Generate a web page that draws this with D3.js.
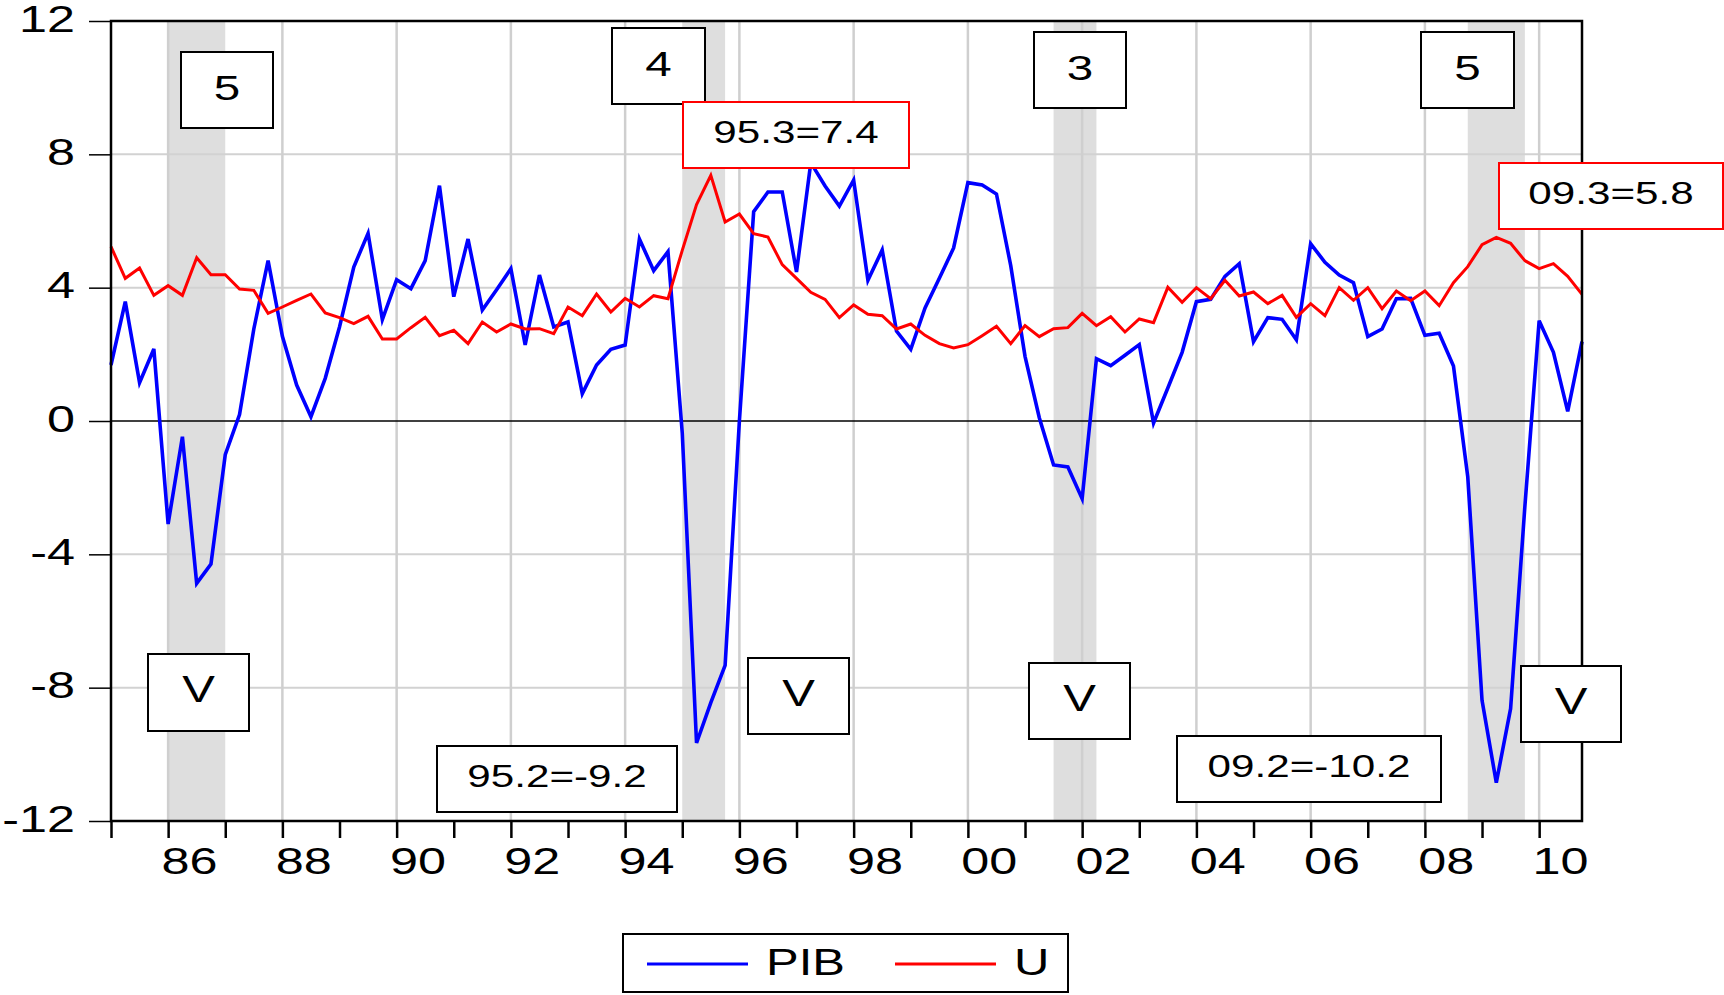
<html>
<head>
<meta charset="utf-8">
<script src="https://d3js.org/d3.v7.min.js"></script>
<style>
  body { margin: 0; background: #fff; }
  text { font-family: "Liberation Sans", Arial, sans-serif; fill: #000; }
</style>
</head>
<body>
<svg width=1724 height=995 id="chart"></svg>
<script>

// quarterly data, 1985Q1 - 2010Q4
var years = [1985,1986,1987,1988,1989,1990,1991,1992,1993,1994,1995,1996,1997,
             1998,1999,2000,2001,2002,2003,2004,2005,2006,2007,2008,2009,2010];
var quarters = ["Q1","Q2","Q3","Q4"];

var pib = [1.68,3.58,1.15,2.16, -3.09,-0.47,-4.87,-4.29, -1.01,0.19,2.76,4.81,
           2.54,1.08,0.13,1.28, 2.82,4.62,5.63,3.04, 4.24,3.97,4.81,7.06,
           3.73,5.46,3.33,3.94, 4.57,2.28,4.38,2.82, 2.97,0.82,1.68,2.15,
           2.28,5.46,4.51,5.08, -0.36,-9.66,-8.45,-7.33, 0.0,6.28,6.87,6.87,
           4.47,7.75,7.05,6.45, 7.23,4.22,5.13,2.70, 2.15,3.39,4.28,5.19,
           7.15,7.08,6.81,4.66, 1.94,0.10,-1.32,-1.38, -2.33,1.87,1.66,1.97,
           2.29,-0.06,0.99,2.06, 3.58,3.65,4.34,4.72, 2.38,3.10,3.05,2.44,
           5.32,4.76,4.38,4.15, 2.53,2.76,3.67,3.68, 2.57,2.63,1.65,-1.67,
           -8.38,-10.85,-8.63,-2.56, 3.01,2.06,0.29,2.38];

var u = [5.23,4.28,4.59,3.77, 4.06,3.77,4.90,4.39, 4.39,3.96,3.92,3.23,
         3.42,3.62,3.81,3.24, 3.10,2.92,3.14,2.46, 2.46,2.80,3.11,2.56,
         2.72,2.32,2.97,2.67, 2.91,2.76,2.77,2.62, 3.42,3.16,3.81,3.27,
         3.68,3.42,3.76,3.67, 5.12,6.49,7.37,5.97, 6.21,5.62,5.52,4.69,
         4.28,3.86,3.65,3.10, 3.48,3.20,3.16,2.76, 2.91,2.57,2.32,2.19,
         2.29,2.56,2.84,2.32, 2.86,2.53,2.77,2.80, 3.23,2.86,3.13,2.67,
         3.06,2.95,4.01,3.56, 4.00,3.67,4.22,3.75, 3.87,3.52,3.77,3.11,
         3.52,3.16,4.00,3.62, 4.00,3.37,3.90,3.61, 3.90,3.46,4.15,4.63,
         5.29,5.51,5.33,4.81, 4.57,4.72,4.34,3.80];

var yTicks = [-12,-8,-4,0,4,8,12];
var labelYears = [1986,1988,1990,1992,1994,1996,1998,2000,2002,2004,2006,2008,2010];
var xTickLabels = ["86","88","90","92","94","96","98","00","02","04","06","08","10"];

var recessions = [["1986Q1","1987Q1"],["1995Q1","1995Q4"],["2001Q3","2002Q2"],["2008Q4","2009Q4"]];
var recessionLabels = ["5","4","3","5"];
var troughLabel = "V";
var notes = ["95.3=7.4","09.3=5.8","95.2=-9.2","09.2=-10.2"];
var seriesNames = ["PIB","U"];

// ---------------------------------------------------------

var SX = 1.36;   // the original graph is stretched horizontally
var pLeft = 111, pRight = 1582, pTop = 21, pBottom = 821;

var periods = [];
years.forEach(function(yr) {
  quarters.forEach(function(q, qi) { periods.push({name: yr + q, t: yr + qi / 4}); });
});
function tOf(name) { return periods.find(function(p) { return p.name == name; }).t; }

var x = d3.scaleLinear().domain([1985, 2010.75]).range([pLeft, pRight]);
var y = d3.scaleLinear().domain([-12, 12]).range([pBottom, pTop]);

var svg = d3.select("svg");

function stretched(g, txt, tx, ty, size, anchor) {
  return g.append("text")
    .attr("transform", "translate(" + tx + "," + ty + ") scale(" + SX + ",1)")
    .attr("text-anchor", anchor)
    .style("font-size", size + "px")
    .text(txt);
}

// recession shading
svg.append("g").selectAll("rect")
  .data(recessions)
  .enter()
  .append("rect")
    .attr("x", function(d) { return x(tOf(d[0])); })
    .attr("width", function(d) { return x(tOf(d[1])) - x(tOf(d[0])); })
    .attr("y", pTop)
    .attr("height", pBottom - pTop)
    .style("fill", "#dedede");

// grid
svg.append("g").selectAll("line")
  .data(yTicks.filter(function(v) { return v != 0 && Math.abs(v) != 12; }))
  .enter()
  .append("line")
    .attr("x1", pLeft).attr("x2", pRight)
    .attr("y1", function(d) { return y(d); })
    .attr("y2", function(d) { return y(d); })
    .style("stroke", "#d2d2d2")
    .style("stroke-width", 2);

svg.append("g").selectAll("line")
  .data(labelYears)
  .enter()
  .append("line")
    .attr("x1", function(d) { return x(d); })
    .attr("x2", function(d) { return x(d); })
    .attr("y1", pTop).attr("y2", pBottom)
    .style("stroke", "#cfcfcf")
    .style("stroke-width", 2.5);

svg.append("line")
  .attr("x1", pLeft).attr("x2", pRight)
  .attr("y1", y(0)).attr("y2", y(0))
  .style("stroke", "#000")
  .style("stroke-width", 1.5);

// series
var line = d3.line()
  .x(function(d, i) { return x(periods[i].t); })
  .y(function(d) { return y(d); });

svg.append("path")
  .attr("d", line(pib))
  .style("fill", "none")
  .style("stroke", "#0000ff")
  .style("stroke-width", 3.6);

svg.append("path")
  .attr("d", line(u))
  .style("fill", "none")
  .style("stroke", "#ff0000")
  .style("stroke-width", 3);

// y axis
var yAxis = svg.append("g")
  .attr("transform", "translate(" + pLeft + ",0)")
  .call(d3.axisLeft(y).tickValues(yTicks).tickSize(22).tickFormat(function(d) { return String(d); }));
yAxis.select(".domain").remove();
yAxis.selectAll(".tick line").style("stroke", "#000").style("stroke-width", 1.5);
yAxis.selectAll(".tick text")
  .attr("x", null).attr("dy", null)
  .attr("fill", "#000")
  .attr("transform", "translate(-36,10) scale(" + SX + ",1)")
  .style("font-size", "37px")
  .style("font-family", "'Liberation Sans', Arial, sans-serif");

// x axis: a tick for every year, labels every two years
var xAxis = svg.append("g")
  .attr("transform", "translate(0," + pBottom + ")")
  .call(d3.axisBottom(x).tickValues(years).tickSize(17).tickFormat(""));
xAxis.select(".domain").remove();
xAxis.selectAll(".tick line").style("stroke", "#000").style("stroke-width", 2.5);

var xl = svg.append("g");
labelYears.forEach(function(yr, i) {
  stretched(xl, xTickLabels[i], x(yr + 0.375), 874, 37, "middle");
});

// frame
svg.append("rect")
  .attr("x", pLeft).attr("y", pTop)
  .attr("width", pRight - pLeft).attr("height", pBottom - pTop)
  .style("fill", "none")
  .style("stroke", "#000")
  .style("stroke-width", 2.5);

// text boxes
var boxes = [
  {t: recessionLabels[0], x0: 181, y0: 52,  x1: 273, y1: 128, c: "#000", fs: 35},
  {t: recessionLabels[1], x0: 612, y0: 28,  x1: 705, y1: 104, c: "#000", fs: 35},
  {t: recessionLabels[2], x0: 1034, y0: 32, x1: 1126, y1: 108, c: "#000", fs: 35},
  {t: recessionLabels[3], x0: 1421, y0: 32, x1: 1514, y1: 108, c: "#000", fs: 35},
  {t: notes[0], x0: 683, y0: 102, x1: 909, y1: 168, c: "#ff0000", fs: 31},
  {t: notes[1], x0: 1499, y0: 163, x1: 1723, y1: 229, c: "#ff0000", fs: 31},
  {t: troughLabel, x0: 148, y0: 654, x1: 249, y1: 731, c: "#000", fs: 36},
  {t: troughLabel, x0: 748, y0: 658, x1: 849, y1: 734, c: "#000", fs: 36},
  {t: troughLabel, x0: 1029, y0: 663, x1: 1130, y1: 739, c: "#000", fs: 36},
  {t: troughLabel, x0: 1521, y0: 666, x1: 1621, y1: 742, c: "#000", fs: 36},
  {t: notes[2], x0: 437, y0: 746, x1: 677, y1: 812, c: "#000", fs: 31},
  {t: notes[3], x0: 1177, y0: 736, x1: 1441, y1: 802, c: "#000", fs: 31}
];

var bg = svg.append("g");
boxes.forEach(function(b) {
  bg.append("rect")
    .attr("x", b.x0).attr("y", b.y0)
    .attr("width", b.x1 - b.x0).attr("height", b.y1 - b.y0)
    .style("fill", "#fff")
    .style("stroke", b.c)
    .style("stroke-width", 2);
  stretched(bg, b.t, (b.x0 + b.x1) / 2, (b.y0 + b.y1) / 2 + b.fs * 0.36 - 3, b.fs, "middle");
});

// legend
var lg = svg.append("g");
lg.append("rect")
  .attr("x", 623).attr("y", 934)
  .attr("width", 445).attr("height", 58)
  .style("fill", "#fff")
  .style("stroke", "#000")
  .style("stroke-width", 2);
var legendColors = ["#0000ff", "#ff0000"];
var legendX = [647, 895];
seriesNames.forEach(function(n, i) {
  lg.append("line")
    .attr("x1", legendX[i]).attr("x2", legendX[i] + 101)
    .attr("y1", 964).attr("y2", 964)
    .style("stroke", legendColors[i])
    .style("stroke-width", 3);
  stretched(lg, n, legendX[i] + 119, 975, 36, "start");
});

</script>
</body>
</html>
